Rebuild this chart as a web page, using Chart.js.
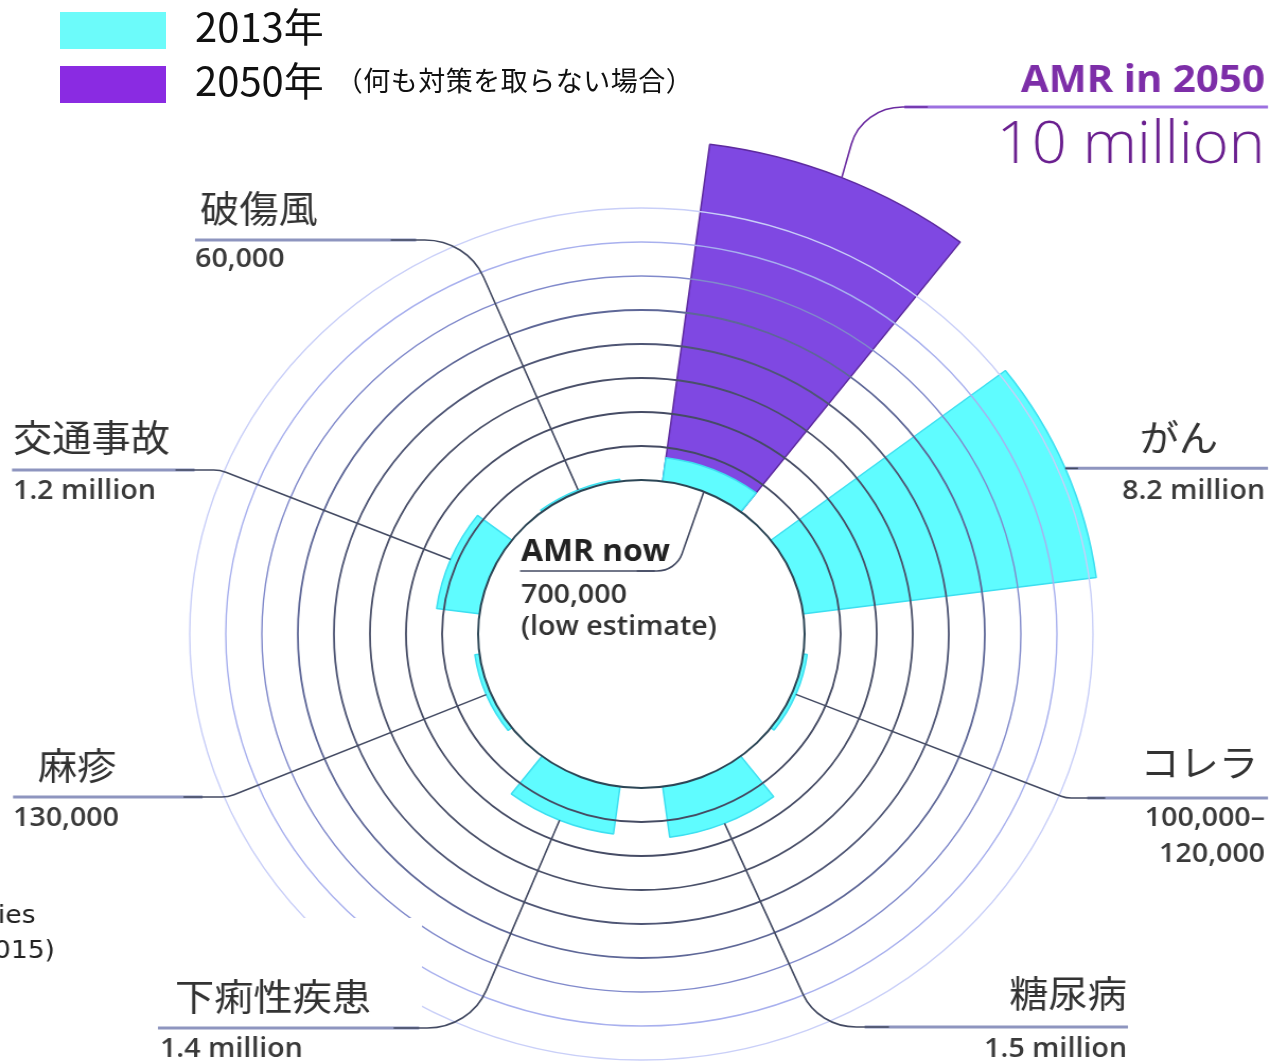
<!DOCTYPE html>
<html lang="ja">
<head>
<meta charset="utf-8">
<title>AMR deaths</title>
<script src="https://cdn.jsdelivr.net/npm/chart.js@4.4.1/dist/chart.umd.min.js"></script>
<style>
  html, body { margin: 0; background: #fff; }
  body { width: 1270px; height: 1062px; position: relative; overflow: hidden; }
  #chart { position: absolute; left: 0; top: 0; }
  .legend { position: absolute; left: 60px; top: 3px; font-family: "Noto Sans CJK JP", sans-serif; color: #111; }
  .legend-row { display: flex; align-items: center; height: 54px; }
  .swatch { width: 106px; height: 37px; margin-right: 29px; }
  .year { font-size: 40px; position: relative; top: -5px; }
  .note { font-size: 27px; letter-spacing: 0.5px; margin-left: 12px; position: relative; top: -5px; }
</style>
</head>
<body>
<!-- drawn at 1198px wide and stretched to 1270px, so the rings come out slightly oval -->
<canvas id="chart" width="1198" height="1062" style="width:1270px;height:1062px"></canvas>
<div class="legend" id="legend"></div>
<script>
const causes = ['AMR', 'がん', 'コレラ', '糖尿病', '下痢性疾患', '麻疹', '交通事故', '破傷風'];
const deaths2013 = [700000, 8200000, 110000, 1500000, 1400000, 130000, 1200000, 60000];
const deaths2050 = [10000000, null, null, null, null, null, null, null];
const deathLabels = ['700,000', '8.2 million', '100,000–120,000', '1.5 million', '1.4 million', '130,000', '1.2 million', '60,000'];
const amrLabel2050 = '10 million';
const seriesNames = ['2013年', '2050年'];
const seriesNotes = ['', '（何も対策を取らない場合）'];
const ringTicks = [0, 1000000, 2000000, 3000000, 4000000, 5000000, 6000000, 7000000, 8000000];

const CYAN = '#5ffcff';
const PURPLE = '#7f48e2';
const legendColors = ['#6cfbfa', '#8a2be2'];

const SLICE = 30;   // degrees per cause
const GAP = 15;     // empty wedge after each cause
const SX = 1270 / 1198;
const px = x => x / SX;   // page x -> canvas x

// rings every million, dark near the hub and fading outwards
const RING_COLORS = ['#2c4656', '#454b63', '#464c65', '#4a5069', '#4f5675', '#5e6797', '#818acb', '#a8b0ee', '#c9cff8'];

function ringColor(v) {
  const m = Math.round(v / 1e6);
  if (v < 0 || Math.abs(v - m * 1e6) > 1 || m >= RING_COLORS.length) return 'rgba(0,0,0,0)';
  return RING_COLORS[m];
}

function ringWidth(v) {
  const m = v / 1e6;
  return m <= 0 ? 2 : m <= 5 ? 1.8 : 1.4;
}

const withGaps = arr => arr.flatMap(v => [v, null]);
const wedgeAngle = ctx => (ctx.dataIndex % 2 ? GAP : SLICE);

// legend
const legend = document.getElementById('legend');
seriesNames.forEach((name, i) => {
  const row = document.createElement('div');
  row.className = 'legend-row';
  row.innerHTML = `<div class="swatch" style="background:${legendColors[i]}"></div>` +
    `<span class="year">${name}</span>` +
    (seriesNotes[i] ? `<span class="note">${seriesNotes[i]}</span>` : '');
  legend.appendChild(row);
});

function wedgePoint(chart, datasetIndex, cause, value) {
  const arc = chart.getDatasetMeta(datasetIndex).data[cause * 2];
  const mid = (arc.startAngle + arc.endAngle) / 2;
  const r = chart.scales.r.getDistanceFromCenterForValue(value);
  return { x: arc.x + Math.cos(mid) * r, y: arc.y + Math.sin(mid) * r };
}

const FONT_JP = '"Noto Sans CJK JP", sans-serif';
const FONT_NUM = '"Open Sans", sans-serif';
const TITLE_FONT = `37px ${FONT_JP}`;
const FIGURE_FONT = `600 27px ${FONT_NUM}`;
const RULE = '#8e95bf';
const LEAD = '#434a62';

// label layout in page pixels
const callouts = [
  { cause: 7, align: 'left', title: [200, 209], figure: [195, 267], y: 240, end: 195, corner: 467, round: 60 },
  { cause: 6, align: 'left', title: [13, 438], figure: [13, 499], y: 470, end: 12, corner: 220, round: 30 },
  { cause: 5, align: 'left', title: [38, 766], figure: [13, 826], y: 797, end: 13, corner: 228, round: 30 },
  { cause: 4, align: 'left', title: [175, 997], figure: [160, 1057], y: 1028, end: 158, corner: 470, round: 60 },
  { cause: 3, align: 'right', title: [1127, 994], figure: [1127, 1057], y: 1027, end: 1128, corner: 818, round: 55 },
  { cause: 2, align: 'right', title: [1258, 763], figure: [1265, 826], y: 798, end: 1268, corner: 1066, round: 25 },
  { cause: 1, align: 'right', title: [1218, 438], figure: [1265, 499], y: null, end: 1268, corner: null, round: 0 }
];

function drawLeader(ctx, from, cornerX, y, round, farX, ruleColor, ruleWidth, leadColor) {
  const dir = Math.sign(farX - cornerX);
  ctx.strokeStyle = ruleColor;
  ctx.lineWidth = ruleWidth;
  ctx.beginPath();
  ctx.moveTo(farX, y);
  ctx.lineTo(cornerX + dir * round * 0.8, y);
  ctx.stroke();

  ctx.strokeStyle = leadColor;
  ctx.lineWidth = 1.6;
  ctx.beginPath();
  ctx.moveTo(from.x, from.y);
  if (round) ctx.arcTo(cornerX, y, farX, y, round);
  ctx.lineTo(cornerX + dir * (round + 12), y);
  ctx.stroke();
}

function text(ctx, str, x, y, font, color, align, baseline) {
  ctx.font = font;
  ctx.fillStyle = color;
  ctx.textAlign = align;
  ctx.textBaseline = baseline || 'alphabetic';
  ctx.fillText(str, px(x), y);
}

const holePlugin = {
  id: 'hole',
  afterDatasetsDraw(chart) {
    const r = chart.scales.r;
    const ctx = chart.ctx;
    ctx.save();
    ctx.fillStyle = '#fff';
    ctx.beginPath();
    ctx.arc(r.xCenter, r.yCenter, r.getDistanceFromCenterForValue(0), 0, Math.PI * 2);
    ctx.fill();
    ctx.restore();
  }
};

const calloutPlugin = {
  id: 'callouts',
  afterDraw(chart) {
    const ctx = chart.ctx;
    ctx.save();

    // lower left corner is blanked, only the tail of a source note is left
    ctx.fillStyle = '#fff';
    ctx.fillRect(0, 918, px(422), 1062 - 918);
    text(ctx, 'ies', -2, 923, `25px "DejaVu Sans", sans-serif`, '#222', 'left');
    text(ctx, '015)', -6, 958, `25px "DejaVu Sans", sans-serif`, '#222', 'left');

    callouts.forEach(c => {
      const anchor = wedgePoint(chart, 0, c.cause, deaths2013[c.cause]);
      const y = c.y == null ? anchor.y : c.y;
      const cornerX = c.corner == null ? anchor.x : px(c.corner);
      drawLeader(ctx, anchor, cornerX, y, c.round, px(c.end), RULE, 3, LEAD);

      text(ctx, causes[c.cause], c.title[0], c.title[1], TITLE_FONT, '#333', c.align, 'middle');
      const lines = deathLabels[c.cause].split(/(?<=–)/);
      lines.forEach((line, k) => {
        text(ctx, line, c.figure[0], c.figure[1] + k * 36, FIGURE_FONT, '#3a3a3a', c.align);
      });
    });

    // AMR today, from the inside of the hub
    const now = wedgePoint(chart, 0, 0, 0);
    drawLeader(ctx, now, px(676), 571, 25, px(520), LEAD, 1.6, LEAD);
    text(ctx, `${causes[0]} now`, 521, 561, `700 30px ${FONT_NUM}`, '#222', 'left');
    text(ctx, deathLabels[0], 521, 603, FIGURE_FONT, '#333', 'left');
    text(ctx, '(low estimate)', 521, 635, FIGURE_FONT, '#333', 'left');

    // AMR in 2050
    const future = wedgePoint(chart, 1, 0, deaths2050[0]);
    drawLeader(ctx, future, px(862), 107, 50, px(1268), '#9c70e0', 3, '#6a2aa0');
    text(ctx, `${causes[0]} in 2050`, 1265, 92, `700 38px ${FONT_NUM}`, '#7d2ea8', 'right');
    text(ctx, amrLabel2050, 1265, 163, `300 58px ${FONT_NUM}`, '#6a1f8f', 'right');

    ctx.restore();
  }
};

new Chart(document.getElementById('chart'), {
  type: 'polarArea',
  data: {
    labels: causes.flatMap(c => [c, '']),
    datasets: [
      {
        label: seriesNames[0],
        data: withGaps(deaths2013),
        backgroundColor: CYAN,
        borderColor: '#3ddff0',
        borderWidth: 1.5,
        angle: wedgeAngle
      },
      {
        label: seriesNames[1],
        data: withGaps(deaths2050),
        backgroundColor: PURPLE,
        borderColor: '#5d2a9e',
        borderWidth: 1.5,
        angle: wedgeAngle
      }
    ]
  },
  options: {
    responsive: false,
    animation: false,
    events: [],
    layout: { padding: { top: 208, bottom: 2, left: 13, right: 0 } },
    plugins: {
      legend: { display: false },
      tooltip: { enabled: false }
    },
    scales: {
      r: {
        startAngle: 7.5,
        min: -4.53e6,   // zero sits on the edge of the hub
        max: 8e6,
        afterBuildTicks: scale => {
          scale.ticks = [scale.min, ...ringTicks].map(value => ({ value }));
        },
        ticks: { display: false },
        grid: {
          z: 1,
          circular: true,
          color: ctx => ringColor(ctx.tick.value),
          lineWidth: ctx => ringWidth(ctx.tick.value)
        },
        angleLines: { display: false },
        pointLabels: { display: false }
      }
    }
  },
  plugins: [holePlugin, calloutPlugin]
});
</script>
</body>
</html>
